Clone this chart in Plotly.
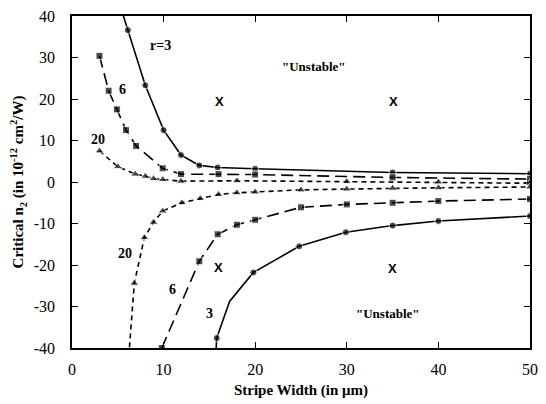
import plotly.graph_objects as go

# r = 3 (solid, circles)
r3_up_x = [5.4, 6.1, 8.0, 10.0, 11.9, 13.9, 15.9, 20.0, 35.0, 50.0]
r3_up_y = [41.5, 36.6, 23.3, 12.5, 6.5, 4.0, 3.5, 3.2, 2.3, 2.0]
r3_lo_x = [15.7, 15.8, 17.2, 19.8, 24.8, 29.9, 35.0, 40.0, 50.0]
r3_lo_y = [-41.5, -37.6, -28.8, -21.8, -15.5, -12.1, -10.5, -9.4, -8.2]
r3_lo_unmarked = [17.2]

# r = 6 (long dash, squares)
r6_up_x = [3.0, 4.0, 4.9, 5.9, 7.0, 9.9, 11.9, 16.0, 20.0, 35.0, 50.0]
r6_up_y = [30.4, 22.0, 17.5, 12.5, 8.7, 3.3, 1.9, 1.9, 1.8, 1.1, 0.7]
r6_lo_x = [9.8, 13.9, 15.9, 18.0, 20.0, 25.0, 30.0, 35.0, 40.0, 50.0]
r6_lo_y = [-40.0, -19.1, -12.6, -10.3, -9.1, -6.1, -5.4, -5.0, -4.6, -4.1]

# r = 20 (short dash, triangles)
r20_up_x = [3.0, 5.0, 6.9, 8.0, 8.9, 9.9, 11.9, 18.0, 30.0, 40.0, 50.0]
r20_up_y = [7.5, 3.7, 1.9, 1.4, 0.8, 0.6, 0.2, 0.3, 0.1, 0.0, -0.3]
r20_lo_x = [6.2, 6.8, 7.9, 8.9, 9.9, 12.0, 14.0, 16.0, 18.0, 20.0, 25.0, 30.0, 35.0, 40.0, 50.0]
r20_lo_y = [-42.0, -24.4, -13.4, -9.7, -7.0, -5.0, -4.0, -3.0, -2.6, -2.4, -1.9, -1.7, -1.5, -1.4, -1.2]

x_ticks = [0, 10, 20, 30, 40, 50]
y_ticks = [-40, -30, -20, -10, 0, 10, 20, 30, 40]

# labels: (x, y, text)
curve_labels = [(9.7, 33, "r=3"), (5.5, 22.3, "6"), (2.8, 10.3, "20"),
                (5.8, -17.2, "20"), (11.0, -25.8, "6"), (15.0, -31.6, "3")]
x_marks_x = [16.1, 35.1, 16.0, 35.0]
x_marks_y = [19.5, 19.3, -20.7, -20.8]
unstable = [(26.4, 27.8), (34.5, -31.6)]

fig = go.Figure()

def add_curve(xs, ys, dash, symbol, msize, unmarked=()):
    sizes = [0 if x in unmarked else msize for x in xs]
    fig.add_trace(go.Scatter(
        x=xs, y=ys, mode="lines+markers",
        line=dict(color="black", width=1.6, dash=dash),
        marker=dict(symbol=symbol, size=sizes, color="black"),
        cliponaxis=True, showlegend=False))

add_curve(r3_up_x, r3_up_y, "solid", "circle", 7)
add_curve(r3_lo_x, r3_lo_y, "solid", "circle", 7, r3_lo_unmarked)
add_curve(r6_up_x, r6_up_y, "12px,6px", "square", 7)
add_curve(r6_lo_x, r6_lo_y, "12px,6px", "square", 7)
add_curve(r20_up_x, r20_up_y, "5px,4px", "triangle-up", 8)
add_curve(r20_lo_x, r20_lo_y, "5px,4px", "triangle-up", 8)

serif = "Liberation Serif"
for (x, y, t) in curve_labels:
    fig.add_annotation(x=x, y=y, text="<b>" + t + "</b>", showarrow=False,
                       font=dict(family=serif, size=14, color="black"))
for x, y in zip(x_marks_x, x_marks_y):
    fig.add_annotation(x=x, y=y, text="<b>X</b>", showarrow=False,
                       font=dict(family="Liberation Sans", size=13, color="black"))
for x, y in unstable:
    fig.add_annotation(x=x, y=y, text='<b>"Unstable"</b>', showarrow=False,
                       font=dict(family=serif, size=13, color="black"))

axis_common = dict(showgrid=False, zeroline=False, showline=True, linecolor="black",
                   linewidth=1.5, mirror="ticks", ticks="inside", ticklen=6,
                   tickcolor="black", tickwidth=1.2,
                   tickfont=dict(family=serif, size=16, color="black"))

fig.update_xaxes(range=[0, 50], tickvals=x_ticks, ticktext=[str(v) for v in x_ticks],
                 ticklabelstandoff=6,
                 title=dict(text="<b>Stripe Width (in μm)</b>", standoff=8,
                            font=dict(family=serif, size=15, color="black")),
                 **axis_common)
fig.update_yaxes(range=[-40, 40], tickvals=y_ticks, ticktext=[str(v) for v in y_ticks],
                 ticklabelstandoff=12,
                 title=dict(text="<b>Critical n<sub>2</sub> (in 10<sup>-12</sup> cm<sup>2</sup>/W)</b>",
                            standoff=6, font=dict(family=serif, size=15, color="black")),
                 **axis_common)

fig.update_layout(width=546, height=404, margin=dict(l=72, r=8, t=16, b=54),
                  paper_bgcolor="white", plot_bgcolor="white", showlegend=False)

fig.write_html("out.html")
